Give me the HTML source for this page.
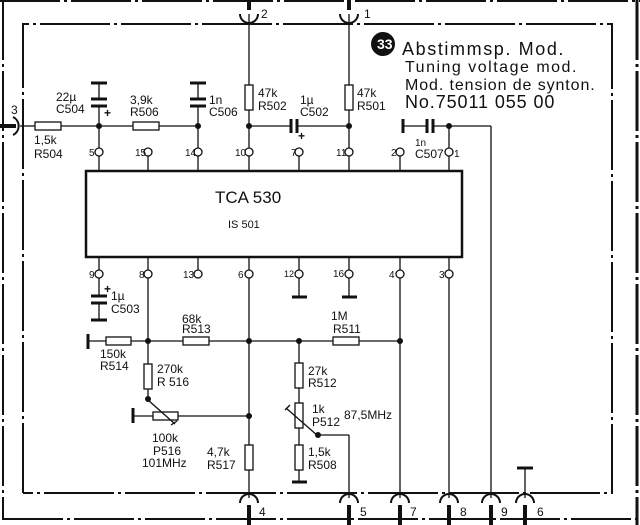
<!DOCTYPE html>
<html><head><meta charset="utf-8"><style>
html,body{margin:0;padding:0;background:#fff;}
svg{display:block;font-family:"Liberation Sans",sans-serif;}
</style></head><body>
<svg width="640" height="525" viewBox="0 0 640 525" xmlns="http://www.w3.org/2000/svg">
<g stroke="#111" fill="none" stroke-width="1.3">
<line x1="3" y1="0" x2="3" y2="520" stroke-width="2" stroke-dasharray="60 4 3 4"/>
<line x1="3" y1="519" x2="640" y2="519" stroke-width="2" stroke-dasharray="60 4 3 4"/>
<line x1="0" y1="1" x2="640" y2="1" stroke-width="2" stroke-dasharray="60 4 3 4"/>
<line x1="637" y1="0" x2="637" y2="525" stroke-width="3" stroke-dasharray="60 4 3 4"/>
<polyline points="23,493 23,24 612,24 612,493 23,493" stroke-width="2" stroke-dasharray="70 4 3 4"/>
<rect x="86" y="171" width="376" height="86" stroke-width="2.5"/>
<g>
<line x1="99" y1="156" x2="99" y2="171"/><circle cx="99" cy="152" r="4" fill="#fff"/>
<line x1="148" y1="156" x2="148" y2="171"/><circle cx="148" cy="152" r="4" fill="#fff"/>
<line x1="198" y1="156" x2="198" y2="171"/><circle cx="198" cy="152" r="4" fill="#fff"/>
<line x1="249" y1="156" x2="249" y2="171"/><circle cx="249" cy="152" r="4" fill="#fff"/>
<line x1="299" y1="156" x2="299" y2="171"/><circle cx="299" cy="152" r="4" fill="#fff"/>
<line x1="349" y1="156" x2="349" y2="171"/><circle cx="349" cy="152" r="4" fill="#fff"/>
<line x1="400" y1="156" x2="400" y2="171"/><circle cx="400" cy="152" r="4" fill="#fff"/>
<line x1="449" y1="156" x2="449" y2="171"/><circle cx="449" cy="152" r="4" fill="#fff"/>
</g>
<g>
<line x1="99" y1="257" x2="99" y2="270"/><circle cx="99" cy="274" r="4" fill="#fff"/>
<line x1="148" y1="257" x2="148" y2="270"/><circle cx="148" cy="274" r="4" fill="#fff"/>
<line x1="198" y1="257" x2="198" y2="270"/><circle cx="198" cy="274" r="4" fill="#fff"/>
<line x1="249" y1="257" x2="249" y2="270"/><circle cx="249" cy="274" r="4" fill="#fff"/>
<line x1="299" y1="257" x2="299" y2="270"/><circle cx="299" cy="274" r="4" fill="#fff"/>
<line x1="349" y1="257" x2="349" y2="270"/><circle cx="349" cy="274" r="4" fill="#fff"/>
<line x1="400" y1="257" x2="400" y2="270"/><circle cx="400" cy="274" r="4" fill="#fff"/>
<line x1="449" y1="257" x2="449" y2="270"/><circle cx="449" cy="274" r="4" fill="#fff"/>
</g>
<line x1="20" y1="126" x2="35" y2="126"/>
<rect x="35" y="122" width="26" height="8"/>
<line x1="61" y1="126" x2="133" y2="126"/>
<rect x="133" y="122" width="26" height="8"/>
<line x1="159" y1="126" x2="198" y2="126"/>
<line x1="99" y1="126" x2="99" y2="148"/>
<line x1="198" y1="126" x2="198" y2="148"/>
<line x1="0" y1="126" x2="16" y2="126" stroke-width="4"/>
<path d="M13,117 A10,10 0 0 1 13,135" stroke-width="2"/>
<line x1="91" y1="83" x2="107" y2="83" stroke-width="3"/>
<line x1="99" y1="83" x2="99" y2="99"/>
<line x1="91" y1="99" x2="107" y2="99" stroke-width="3"/>
<line x1="91" y1="106" x2="107" y2="106" stroke-width="3"/>
<line x1="99" y1="106" x2="99" y2="126"/>
<line x1="190" y1="83" x2="206" y2="83" stroke-width="3"/>
<line x1="198" y1="83" x2="198" y2="99"/>
<line x1="190" y1="99" x2="206" y2="99" stroke-width="3"/>
<line x1="190" y1="106" x2="206" y2="106" stroke-width="3"/>
<line x1="198" y1="106" x2="198" y2="126"/>
<line x1="249" y1="14" x2="249" y2="85"/>
<rect x="245" y="85" width="8" height="25"/>
<line x1="249" y1="110" x2="249" y2="148"/>
<line x1="249" y1="0" x2="249" y2="10" stroke-width="4"/>
<path d="M240,14 A9,9 0 0 0 258,14" stroke-width="2"/>
<line x1="249" y1="126" x2="291" y2="126"/>
<line x1="291" y1="119" x2="291" y2="133" stroke-width="3"/>
<line x1="297" y1="119" x2="297" y2="133" stroke-width="3"/>
<line x1="297" y1="126" x2="349" y2="126"/>
<line x1="349" y1="14" x2="349" y2="85"/>
<rect x="345" y="85" width="8" height="25"/>
<line x1="349" y1="110" x2="349" y2="148"/>
<line x1="349" y1="0" x2="349" y2="10" stroke-width="4"/>
<path d="M340,14 A9,9 0 0 0 358,14" stroke-width="2"/>
<line x1="403" y1="119" x2="403" y2="133" stroke-width="3"/>
<line x1="403" y1="126" x2="427" y2="126"/>
<line x1="427" y1="119" x2="427" y2="133" stroke-width="3"/>
<line x1="433" y1="119" x2="433" y2="133" stroke-width="3"/>
<line x1="433" y1="126" x2="491" y2="126"/>
<line x1="449" y1="126" x2="449" y2="148"/>
<line x1="491" y1="126" x2="491" y2="498"/>
<line x1="99" y1="278" x2="99" y2="296"/>
<line x1="91" y1="296" x2="107" y2="296" stroke-width="3"/>
<line x1="91" y1="303" x2="107" y2="303" stroke-width="3"/>
<line x1="99" y1="303" x2="99" y2="320"/>
<line x1="91" y1="320" x2="107" y2="320" stroke-width="3"/>
<line x1="148" y1="278" x2="148" y2="364"/>
<line x1="88" y1="334" x2="88" y2="349" stroke-width="3"/>
<line x1="88" y1="341" x2="106" y2="341"/>
<rect x="106" y="337" width="25" height="8"/>
<line x1="131" y1="341" x2="183" y2="341"/>
<rect x="183" y="337" width="26" height="8"/>
<line x1="209" y1="341" x2="333" y2="341"/>
<rect x="333" y="337" width="26" height="8"/>
<line x1="359" y1="341" x2="400" y2="341"/>
<rect x="144" y="364" width="8" height="25"/>
<line x1="148" y1="389" x2="148" y2="400"/>
<line x1="133" y1="408" x2="133" y2="423" stroke-width="3"/>
<line x1="133" y1="416" x2="153" y2="416"/>
<rect x="153" y="412" width="25" height="8"/>
<line x1="178" y1="416" x2="249" y2="416"/>
<line x1="148" y1="400" x2="175" y2="424"/>
<line x1="171" y1="425" x2="177" y2="421"/>
<line x1="249" y1="278" x2="249" y2="445"/>
<rect x="245" y="445" width="8" height="25"/>
<line x1="249" y1="470" x2="249" y2="498"/>
<line x1="299" y1="278" x2="299" y2="297"/>
<line x1="292" y1="297" x2="307" y2="297" stroke-width="3"/>
<line x1="349" y1="278" x2="349" y2="297"/>
<line x1="342" y1="297" x2="357" y2="297" stroke-width="3"/>
<line x1="299" y1="341" x2="299" y2="363"/>
<rect x="295" y="363" width="8" height="25"/>
<line x1="299" y1="388" x2="299" y2="403"/>
<rect x="295" y="403" width="8" height="25"/>
<line x1="299" y1="428" x2="299" y2="445"/>
<rect x="295" y="445" width="8" height="25"/>
<line x1="299" y1="470" x2="299" y2="482"/>
<line x1="292" y1="482" x2="307" y2="482" stroke-width="3"/>
<line x1="286" y1="408" x2="318" y2="436"/>
<line x1="285" y1="410" x2="290" y2="405"/>
<line x1="318" y1="435" x2="349" y2="435"/>
<line x1="349" y1="435" x2="349" y2="498"/>
<line x1="400" y1="278" x2="400" y2="498"/>
<line x1="449" y1="278" x2="449" y2="498"/>
<line x1="517" y1="468" x2="533" y2="468" stroke-width="3"/>
<line x1="525" y1="468" x2="525" y2="498"/>
<g stroke-width="2">
<path d="M240,503 A9,9 0 0 1 258,503"/><path d="M340,503 A9,9 0 0 1 358,503"/>
<path d="M391,503 A9,9 0 0 1 409,503"/><path d="M440,503 A9,9 0 0 1 458,503"/>
<path d="M482,503 A9,9 0 0 1 500,503"/><path d="M516,503 A9,9 0 0 1 534,503"/>
</g>
<g stroke-width="4">
<line x1="249" y1="505" x2="249" y2="525"/><line x1="349" y1="505" x2="349" y2="525"/>
<line x1="400" y1="505" x2="400" y2="525"/><line x1="449" y1="505" x2="449" y2="525"/>
<line x1="491" y1="505" x2="491" y2="525"/><line x1="525" y1="505" x2="525" y2="525"/>
</g>
</g>
<g fill="#111">
<circle cx="99" cy="126" r="3"/><circle cx="198" cy="126" r="3"/><circle cx="249" cy="126" r="3"/>
<circle cx="349" cy="126" r="3"/><circle cx="449" cy="126" r="3"/>
<circle cx="148" cy="341" r="3"/><circle cx="249" cy="341" r="3"/><circle cx="299" cy="341" r="3"/>
<circle cx="400" cy="341" r="3"/><circle cx="249" cy="416" r="3"/><circle cx="148" cy="399" r="3"/>
<circle cx="318" cy="435" r="3"/>
<circle cx="383" cy="44" r="12"/>
</g>
<g fill="#111" font-size="12">
<text x="377" y="49" fill="#fff" font-size="14" font-weight="bold">33</text>
<text x="402" y="55" font-size="18" letter-spacing="1.6">Abstimmsp. Mod.</text>
<text x="405" y="72" font-size="16" letter-spacing="1.5">Tuning voltage mod.</text>
<text x="405" y="90" font-size="16" letter-spacing="0.9">Mod. tension de synton.</text>
<text x="405" y="108" font-size="18" letter-spacing="0.9">No.75011 055 00</text>
<text x="11" y="114">3</text>
<text x="261" y="18">2</text>
<text x="364" y="18">1</text>
<text x="56" y="101">22µ</text><text x="56" y="113">C504</text>
<text x="104" y="117" font-weight="bold">+</text>
<text x="130" y="104">3,9k</text><text x="130" y="116">R506</text>
<text x="34" y="144">1,5k</text><text x="34" y="158">R504</text>
<text x="209" y="104">1n</text><text x="209" y="116">C506</text>
<text x="258" y="97">47k</text><text x="258" y="110">R502</text>
<text x="300" y="104">1µ</text><text x="300" y="116">C502</text>
<text x="298" y="140" font-weight="bold">+</text>
<text x="357" y="97">47k</text><text x="357" y="110">R501</text>
<text x="415" y="146" font-size="10">1n</text><text x="415" y="158">C507</text>
<g font-size="10">
<text x="89" y="156">5</text><text x="135" y="156">15</text><text x="185" y="156">14</text>
<text x="235" y="156">10</text><text x="291" y="156">7</text><text x="336" y="156">11</text>
<text x="391" y="156">2</text><text x="454" y="157">1</text>
<text x="89" y="278">9</text><text x="139" y="278">8</text><text x="183" y="278">13</text>
<text x="238" y="278">6</text><text x="284" y="277" font-size="9">12</text><text x="333" y="277">16</text>
<text x="389" y="278">4</text><text x="439" y="278">3</text>
</g>
<text x="215" y="203" font-size="17">TCA 530</text>
<text x="228" y="228" font-size="11">IS 501</text>
<text x="104" y="293" font-weight="bold">+</text>
<text x="111" y="300">1µ</text><text x="111" y="313">C503</text>
<text x="182" y="323">68k</text><text x="182" y="333">R513</text>
<text x="100" y="358">150k</text><text x="100" y="370">R514</text>
<text x="157" y="373">270k</text><text x="157" y="386">R 516</text>
<text x="152" y="442">100k</text><text x="153" y="455">P516</text><text x="142" y="467">101MHz</text>
<text x="207" y="456">4,7k</text><text x="207" y="469">R517</text>
<text x="331" y="320">1M</text><text x="333" y="333">R511</text>
<text x="308" y="375">27k</text><text x="308" y="387">R512</text>
<text x="312" y="413">1k</text><text x="312" y="426">P512</text><text x="344" y="419">87,5MHz</text>
<text x="308" y="456">1,5k</text><text x="308" y="469">R508</text>
<text x="259" y="516">4</text><text x="360" y="516">5</text><text x="410" y="516">7</text>
<text x="460" y="516">8</text><text x="501" y="516">9</text><text x="537" y="516">6</text>
</g>
</svg>
</body></html>
